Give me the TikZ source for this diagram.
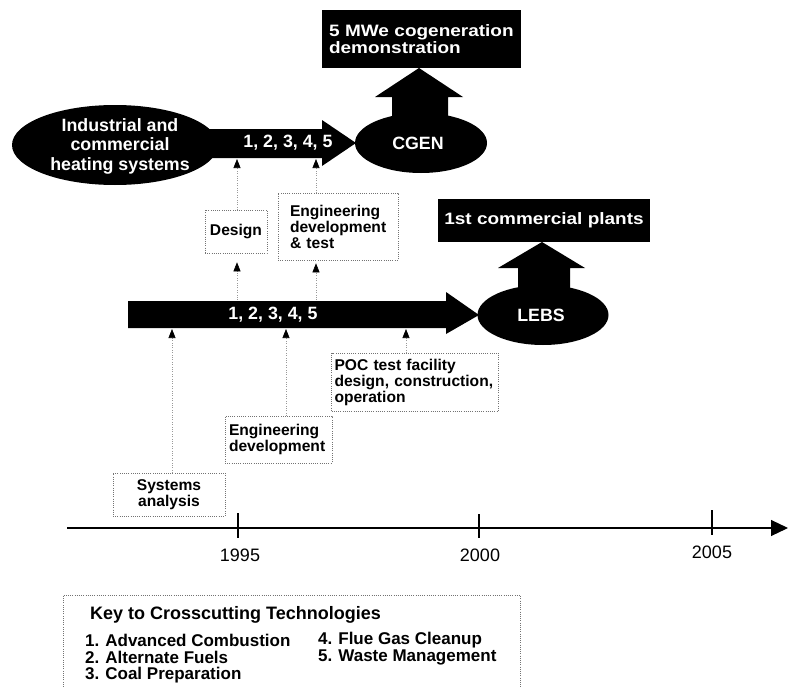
\documentclass[tikz,border=0pt]{standalone}
\usepackage{fontspec}
\setmainfont{Liberation Sans}
\newfontfamily\widesans{Liberation Sans}[FakeStretch=1.15]
\usetikzlibrary{arrows.meta,shapes.geometric}
\begin{document}
\begin{tikzpicture}[x=1pt,y=-1pt,
  blk/.style={fill=black,draw=none},
  wtxt/.style={text=white,font=\fontsize{17.8}{19.5}\selectfont\bfseries,align=center,inner sep=0pt},
  wbox/.style={fill=black,draw=none,text=white,inner sep=0pt,font=\widesans\fontsize{16.5}{16.5}\selectfont\bfseries},
  dotbox/.style={draw=black!55,dash pattern=on 0.8pt off 1.4pt,line width=0.6pt,inner ysep=0pt,
     font=\fontsize{15.6}{16}\selectfont\bfseries},
  dotarr/.style={draw=black!40,dash pattern=on 0.6pt off 1.8pt,line width=0.6pt,
     -{Triangle[length=9pt,width=7pt,black]}},
  keytxt/.style={anchor=west,inner sep=0pt,font=\fontsize{17}{17}\selectfont\bfseries},
  yr/.style={font=\fontsize{18}{18}\selectfont,inner sep=0pt},
  oval/.style={ellipse,fill=black,draw=none,inner sep=0pt}
]
\useasboundingbox (0,0) rectangle (788,688);
\fill[white] (0,0) rectangle (788,688);

% ---- upper track ----
\node[oval,minimum width=206pt,minimum height=80pt] (ind) at (115,145) {};
\node[wtxt] (indt) at (120,146) {Industrial and\\commercial\\heating systems};
\fill[blk] (205,129) -- (322,129) -- (322,120) -- (356,143) -- (322,166) -- (322,158) -- (205,158) -- cycle;
\node[wtxt] (nums1) at (288,143) {1, 2, 3, 4, 5};
\node[oval,minimum width=132pt,minimum height=60pt] (cgen) at (421,143) {};
\node[wtxt] (cgent) at (418,143) {CGEN};
\fill[blk] (392,125) -- (392,97) -- (375,97) -- (419,68) -- (463,97) -- (448,97) -- (448,125) -- cycle;
\node[wbox,minimum width=199pt,minimum height=58pt,text width=185pt,align=left] (demo) at (421.5,39) {5 MWe cogeneration\\demonstration};

% ---- lower track ----
\fill[blk] (128,301) -- (446,301) -- (446,292) -- (479,315) -- (446,334) -- (446,328) -- (128,328) -- cycle;
\node[wtxt] (nums2) at (273,315) {1, 2, 3, 4, 5};
\node[oval,minimum width=131pt,minimum height=60pt] (lebs) at (543,315) {};
\node[wtxt] (lebst) at (541,315) {LEBS};
\fill[blk] (518,292) -- (518,268) -- (498,268) -- (542,242) -- (585,268) -- (570,268) -- (570,292) -- cycle;
\node[wbox,minimum width=212pt,minimum height=43pt,align=center] (comm) at (544,220.5) {1st commercial plants};

% ---- dotted boxes ----
\node[dotbox,minimum width=62pt,minimum height=43pt,inner xsep=0pt,align=center] (design) at (236,231.5) {Design};
\node[dotbox,minimum height=67pt,inner xsep=12pt,text width=96pt,align=left] (engt) at (338,226.5) {Engineering\\development\\\&\ test};
\node[dotbox,minimum height=58pt,inner xsep=3pt,text width=161pt,align=left] (poc) at (415,382) {POC test facility\\design, construction,\\operation};
\node[dotbox,minimum height=47pt,inner xsep=4pt,text width=99pt,align=left] (engd) at (278.5,439.5) {Engineering\\development};
\node[dotbox,minimum width=112pt,minimum height=43pt,inner xsep=0pt,align=center] (sys) at (169,494.5) {Systems\\analysis};

% ---- connector end points on the shafts ----
\coordinate (ua) at (237,159);
\coordinate (ub) at (316,159);
\coordinate (la) at (237,300);
\coordinate (lb) at (316,300);
\coordinate (lc) at (172,329);
\coordinate (ld) at (286,329);
\coordinate (le) at (406,329);

\draw[dotarr] (design.north -| ua) -- (ua);
\draw[dotarr] (engt.north -| ub) -- (ub);
\draw[dotarr,shorten >=9pt] (la) -- (design.south -| la);
\draw[dotarr,shorten >=3pt] (lb) -- (engt.south -| lb);
\draw[dotarr] (sys.north -| lc) -- (lc);
\draw[dotarr] (engd.north -| ld) -- (ld);
\draw[dotarr] (poc.north -| le) -- (le);

% ---- time axis ----
\coordinate (ax0) at (67,528);
\coordinate (ax1) at (788,528);
\draw[line width=1.1pt,-{Triangle[length=17pt,width=16pt]}] (ax0) -- (ax1);
\draw[line width=1.1pt] (238,513) -- (238,538);
\draw[line width=1.1pt] (479,514) -- (479,538);
\draw[line width=1.1pt] (712,510) -- (712,535);
\node[yr] (y95) at (240,555) {1995};
\node[yr] (y00) at (480,555) {2000};
\node[yr] (y05) at (712,552) {2005};

% ---- key ----
\draw[draw=black!55,dash pattern=on 0.8pt off 1.4pt,line width=0.6pt] (63,700) -- (63,595) -- (520,595) -- (520,700);
\node[keytxt,font=\fontsize{18}{18}\selectfont\bfseries] (keyt) at (90,615) {Key to Crosscutting Technologies};
\node[keytxt] (k1) at (85,640) {1.\hspace{6pt}Advanced Combustion};
\node[keytxt] (k2) at (85,657) {2.\hspace{6pt}Alternate Fuels};
\node[keytxt] (k3) at (85,675) {3.\hspace{6pt}Coal Preparation};
\node[keytxt] (k4) at (318,640) {4.\hspace{6pt}Flue Gas Cleanup};
\node[keytxt] (k5) at (318,657) {5.\hspace{6pt}Waste Management};
\end{tikzpicture}
\end{document}
